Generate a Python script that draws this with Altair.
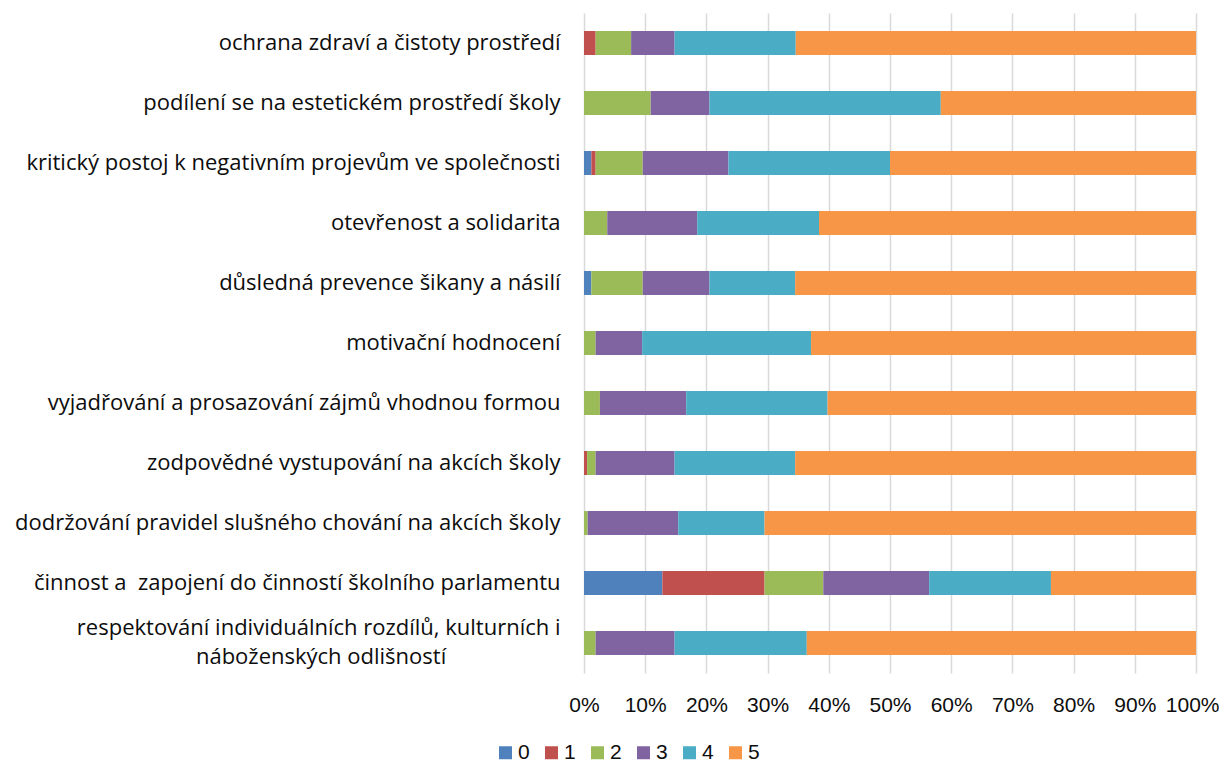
import altair as alt
import pandas as pd

NBSP = "\u00a0"
ZWSP = "\u200b"

categories = [
    "ochrana zdraví a čistoty prostředí",
    "podílení se na estetickém prostředí školy",
    "kritický postoj k negativním projevům ve společnosti",
    "otevřenost a solidarita",
    "důsledná prevence šikany a násilí",
    "motivační hodnocení",
    "vyjadřování a prosazování zájmů vhodnou formou",
    "zodpovědné vystupování na akcích školy",
    "dodržování pravidel slušného chování na akcích školy",
    "činnost a" + NBSP + " zapojení do činností školního parlamentu",
    "respektování individuálních rozdílů, kulturních i\nnáboženských odlišností" + NBSP * 20 + ZWSP,
]

levels = ["0", "1", "2", "3", "4", "5"]

# share (%) of answers for each level, in category order
v0 = [0.0, 0.0, 1.2, 0.0, 1.2, 0.0, 0.0, 0.0, 0.0, 12.8, 0.0]
v1 = [1.9, 0.0, 0.7, 0.0, 0.0, 0.0, 0.0, 0.5, 0.0, 16.7, 0.0]
v2 = [5.8, 10.9, 7.7, 3.8, 8.4, 1.9, 2.6, 1.4, 0.6, 9.6, 1.9]
v3 = [7.1, 9.6, 14.0, 14.7, 10.9, 7.6, 14.1, 12.9, 14.8, 17.3, 12.9]
v4 = [19.8, 37.8, 26.4, 19.9, 14.0, 27.6, 23.1, 19.7, 14.1, 19.9, 21.6]
v5 = [65.4, 41.7, 50.0, 61.6, 65.5, 62.9, 60.2, 65.5, 70.5, 23.7, 63.6]

colors = ["#4F81BD", "#C0504D", "#9BBB59", "#8064A2", "#4BACC6", "#F79646"]
tick_values = [0, 0.1, 0.2, 0.3, 0.4, 0.5, 0.6, 0.7, 0.8, 0.9, 1.0]

rows = []
for i, cat in enumerate(categories):
    for lv, vals in zip(levels, [v0, v1, v2, v3, v4, v5]):
        rows.append({"kategorie": cat, "hodnota": lv, "podil": vals[i], "poradi": int(lv)})
df = pd.DataFrame(rows)

FONT = "Liberation Sans"
CAT_FONT = "Open Sans"

chart = (
    alt.Chart(df)
    .mark_bar()
    .encode(
        y=alt.Y(
            "kategorie:N",
            sort=categories,
            scale=alt.Scale(paddingInner=0.6, paddingOuter=0.3),
            axis=alt.Axis(
                title=None,
                labelExpr="split(datum.label, '\\n')",
                labelFont=CAT_FONT,
                labelFontSize=22,
                labelColor="#0d0d0d",
                labelPadding=24,
                labelLimit=700,
                labelLineHeight=29,
                labelOffset={
                    "condition": {"test": "indexof(datum.value, '\\n') >= 0", "value": -15},
                    "value": 0,
                },
                ticks=False,
                domain=False,
                grid=False,
            ),
        ),
        x=alt.X(
            "podil:Q",
            stack="normalize",
            axis=alt.Axis(
                title=None,
                format=".0%",
                values=tick_values,
                grid=True,
                gridColor="#d9d9d9",
                gridWidth=1.5,
                ticks=False,
                domain=False,
                labelFont=FONT,
                labelFontSize=21,
                labelColor="#0d0d0d",
                labelPadding=21,
                labelFlush=False,
                labelAlign={
                    "condition": {"test": "datum.value >= 1", "value": "right"},
                    "value": "center",
                },
                labelOffset={
                    "condition": {"test": "datum.value >= 1", "value": 23},
                    "value": 0,
                },
            ),
        ),
        color=alt.Color(
            "hodnota:N",
            scale=alt.Scale(domain=levels, range=colors),
            legend=alt.Legend(
                title=None,
                orient="none",
                direction="horizontal",
                legendX=-89,
                legendY=729,
                symbolType="square",
                symbolSize=169,
                symbolStrokeWidth=0,
                labelFont=FONT,
                labelFontSize=21,
                labelColor="#0d0d0d",
                labelOffset=2,
                columnPadding=11,
                padding=0,
            ),
        ),
        order=alt.Order("poradi:Q", sort="ascending"),
    )
    .properties(
        width=612,
        height=660,
        autosize=alt.AutoSizeParams(type="none"),
        padding={"left": 576, "top": 5, "right": 23, "bottom": 90},
    )
    .configure_view(stroke=None)
)

chart.save("out.html", embed_options={"renderer": "svg", "actions": False})
